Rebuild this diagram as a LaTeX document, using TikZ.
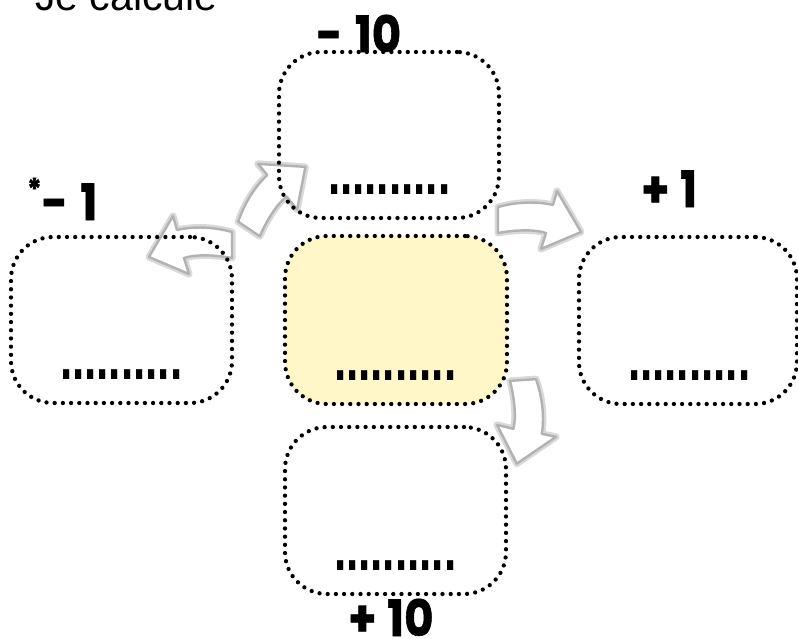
\documentclass[tikz,border=0pt]{standalone}
\usepackage{fontspec}
\setmainfont{Liberation Sans}
\newfontfamily\labfont{Poppins}[BoldFeatures={FakeBold=1.2}]
\newfontfamily\dotfont{Liberation Sans}
\definecolor{paleyellow}{RGB}{255,247,199}
\begin{document}
\begin{tikzpicture}[x=1pt,y=1pt,
  box/.style={draw=black, line width=4.3pt, dash pattern=on 0pt off 8.2pt, line cap=round,
    rounded corners=42pt, inner sep=0pt, minimum width=221pt, minimum height=166pt},
  lab/.style={inner sep=0pt, font=\labfont\bfseries\fontsize{50}{50}\selectfont},
  dotrow/.style={inner sep=0pt, anchor=base west, font=\dotfont\bfseries\fontsize{44}{44}\selectfont},
  arrowstyle/.style={draw=gray!60, line width=2.4pt, fill=white, line join=round,
    preaction={draw=gray!30, line width=7pt, line join=round}},
  curvearrow/.pic={
    \draw[arrowstyle] (0,13) .. controls (18,18) and (38,19) .. (55,15) -- (59,29) -- (83,-12)
      -- (43,-29) -- (48,-13) .. controls (36,-9) and (16,-10) .. (0,-13) -- cycle;
  }]
\clip (0,0) rectangle (798,-638);

% title
\node[anchor=base west, inner sep=0pt, font=\fontsize{41}{41}\selectfont] (title) at (35,-10) {Je calcule};

% arrows (drawn under the dotted borders)
\coordinate (a1) at (249,-229);
\coordinate (a2) at (232,-245);
\coordinate (a3) at (498,-220);
\coordinate (a4) at (523,-380);
\pic[rotate=56] at (a1) {curvearrow};
\pic[xscale=-1] at (a2) {curvearrow};
\pic at (a3) {curvearrow};
\pic[rotate=-86] at (a4) {curvearrow};

% boxes
\node[box, minimum width=220pt, minimum height=166pt] (T) at (389,-135) {};
\node[box] (L) at (121.5,-320) {};
\node[box, fill=paleyellow, minimum width=222pt, minimum height=168pt] (C) at (396,-320) {};
\node[box, minimum width=218pt, minimum height=167pt] (R) at (688,-320.5) {};
\node[box, minimum height=167pt] (B) at (395.5,-510.5) {};

% answer dots
\foreach \b in {T,L,C,R,B}{
  \node[dotrow] (d\b) at ([xshift=51pt,yshift=26pt]\b.south west) {\scalebox{1}[1.5]{..........}};
}

% labels
\node[lab, anchor=base west] (lT) at (316,-52) {\scalebox{0.9}[1]{-\hspace{14pt}10}};
\node[lab, anchor=base west] (lL) at (27,-220) {\scalebox{0.9}[1]{\raisebox{20pt}{\fontsize{30}{30}\selectfont *}-\hspace{14pt}1}};
\node[lab, anchor=base west] (lR) at (641,-207) {\scalebox{0.9}[1]{+\hspace{12pt}1}};
\node[lab, anchor=base west] (lB) at (348,-636) {\scalebox{0.9}[1]{+\hspace{12pt}10}};
\end{tikzpicture}
\end{document}
